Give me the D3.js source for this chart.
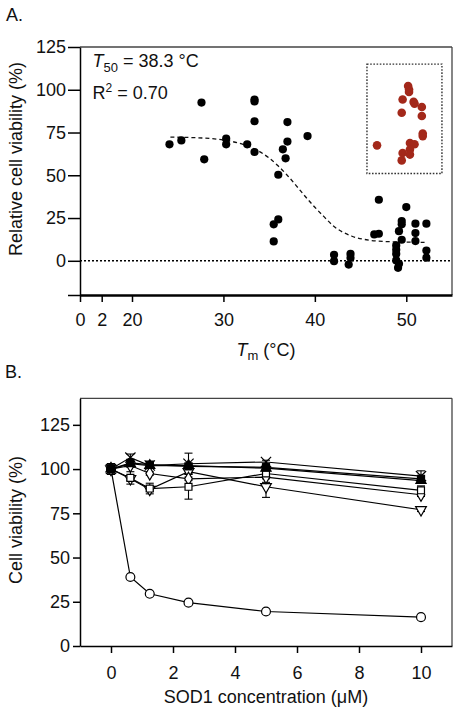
<!DOCTYPE html>
<html><head><meta charset="utf-8">
<script src="https://cdn.jsdelivr.net/npm/d3@7"></script>
<style>
html,body{margin:0;padding:0;background:#fff;}
svg text{font-family:"Liberation Sans",Arial,sans-serif;fill:#111;}
</style></head>
<body><svg id="c" width="458" height="717"></svg>
<script>
// ---------- Panel A data ----------
const tmBlack = [24.1,25.4,27.6,27.9,30.3,30.3,32.6,33.4,33.4,33.4,33.4,37.0,37.0,36.5,36.8,36.0,39.2,36.0,35.5,35.5,42.1,42.1,43.9,43.9,43.7,47.0,46.5,47.0,50.0,49.5,49.5,49.2,49.5,48.9,48.9,48.9,48.9,49.2,49.1,51.0,51.0,51.0,52.2,52.2,52.2];
const viabBlack = [68.1,70.4,92.5,59.3,71.4,68.1,68.1,94.3,93.2,81.6,63.6,81.1,69.7,65.2,59.9,50.3,72.9,24.2,21.3,11.3,3.5,-0.2,4.1,1.8,-2.2,35.7,15.4,15.8,31.4,23.2,21.3,17.3,12.3,9.0,6.4,4.1,0.2,-1.8,-4.1,21.7,16.2,11.5,21.7,6.0,1.8];
const tmRed = [50.2,50.3,50.3,49.6,50.8,50.9,51.7,51.7,49.5,51.8,51.8,46.8,50.4,50.9,49.6,50.4,50.4,49.5];
const viabRed = [102.2,100.1,98.7,94.3,92.9,91.9,89.9,84.7,86.6,74.4,72.9,67.5,68.9,68.1,63.0,65.0,62.1,58.7];
const fitTm = [24.2,28,30,32,34,35,36,37,38,39,40,41,42,44,46,48,52];
const fitViab = [72.3,71.7,70.6,68.3,63.7,60.1,55.4,49.9,43.7,37.3,31.3,25.8,20.5,14.5,12.0,11.2,10.8];
const boxTm = [45.7,53.9];
const boxViab = [51,115];
const tmTicks = [0,2,20,30,40,50];
const viabTicksA = [-20,0,25,50,75,100,125];

// ---------- Panel B data ----------
const sodConc = [0,0.625,1.25,2.5,5,10];
const sodTicks = [0,2,4,6,8,10];
const viabTicksB = [0,25,50,75,100,125];
const seriesNames = ["openCircle","openTriangleDown","openDiamond","openSquare","filledTriangle","filledSquare","times"];
const vOCircle = [100,39,29.5,24.5,19.5,16.3];
const vOTriDn  = [100,94.5,88.5,98.5,90,77];
const vODiam   = [100,102,97.5,94.5,95.5,85.5];
const vOSquare = [100,95,89,90,97.5,88];
const vFTri    = [100,103,102,102,100.5,93.5];
const vFSquare = [100,103.5,102.5,101.5,101,94.5];
const vTimes   = [100,106.5,102,103,104,96];
const eOCircle = [0,0,0,0,0,0];
const eOTriDn  = [3,1,1,1,6,1];
const eODiam   = [3,1,1,1,1,1];
const eOSquare = [3,3.5,3,7,5,2.5];
const eFTri    = [3,1,1,1,1,1];
const eFSquare = [3,1,1,1,1,1.5];
const eTimes   = [3,2,1,6,1,3];

const svg = d3.select("#c");

// ================= PANEL A =================
const xA = d3.scaleLinear().domain([0,2,20,55]).range([80,101.7,132,452]);
const yA = d3.scaleLinear().domain([-20,125]).range([295,47]);

svg.append("text").attr("x",6).attr("y",21).attr("font-size",18).text("A.");

const gA = svg.append("g");
gA.append("line").attr("x1",80).attr("x2",xA(55)).attr("y1",yA(125)).attr("y2",yA(125)).attr("stroke","#444").attr("stroke-width",1.3);
gA.append("line").attr("x1",xA(55)).attr("x2",xA(55)).attr("y1",yA(125)).attr("y2",yA(-20)).attr("stroke","#444").attr("stroke-width",1.3);

gA.append("line").attr("x1",xA(0)).attr("x2",xA(55)).attr("y1",yA(0)).attr("y2",yA(0))
  .attr("stroke","#000").attr("stroke-width",1.4).attr("stroke-dasharray","2,2");

const ayA = gA.append("g").attr("transform","translate(80,0)")
  .call(d3.axisLeft(yA).tickValues(viabTicksA).tickSize(12).tickSizeOuter(0).tickPadding(2)
    .tickFormat(d => d < 0 ? "" : d));
ayA.select(".domain").attr("stroke","#000").attr("stroke-width",1.5);
ayA.selectAll(".tick line").attr("stroke","#000").attr("stroke-width",1.5);
ayA.selectAll("text").attr("font-size",18).attr("font-family","Liberation Sans, Arial, sans-serif").attr("fill","#111");

const axA = gA.append("g").attr("transform",`translate(0,${yA(-20)})`)
  .call(d3.axisBottom(xA).tickValues(tmTicks).tickSize(7).tickSizeOuter(0).tickPadding(11.5));
axA.select(".domain").attr("stroke","#000").attr("stroke-width",2.6);
axA.selectAll(".tick line").attr("stroke","#000").attr("stroke-width",1.5);
axA.selectAll("text").attr("font-size",18).attr("font-family","Liberation Sans, Arial, sans-serif").attr("fill","#111");

gA.append("rect").attr("x",xA(boxTm[0])).attr("y",yA(boxViab[1]))
  .attr("width",xA(boxTm[1])-xA(boxTm[0])).attr("height",yA(boxViab[0])-yA(boxViab[1]))
  .attr("fill","none").attr("stroke","#333").attr("stroke-width",1.4).attr("stroke-dasharray","1.6,1.6");

const fitPts = fitTm.map((t,i)=>[t,fitViab[i]]);
gA.append("path").datum(fitPts)
  .attr("d", d3.line().x(d=>xA(d[0])).y(d=>yA(d[1])).curve(d3.curveMonotoneX))
  .attr("fill","none").attr("stroke","#111").attr("stroke-width",1.3).attr("stroke-dasharray","4,3");

gA.selectAll("circle.blk").data(tmBlack.map((t,i)=>[t,viabBlack[i]])).join("circle")
  .attr("class","blk").attr("cx",d=>xA(d[0])).attr("cy",d=>yA(d[1])).attr("r",4.1).attr("fill","#000");
gA.selectAll("circle.red").data(tmRed.map((t,i)=>[t,viabRed[i]])).join("circle")
  .attr("class","red").attr("cx",d=>xA(d[0])).attr("cy",d=>yA(d[1])).attr("r",4.3).attr("fill","#a3281a");

const t1 = svg.append("text").attr("x",92.5).attr("y",67).attr("font-size",18);
t1.append("tspan").attr("font-style","italic").text("T");
t1.append("tspan").attr("font-size",13).attr("dy",5).text("50");
t1.append("tspan").attr("dy",-5).text(" = 38.3 °C");
const t2 = svg.append("text").attr("x",92.5).attr("y",99).attr("font-size",18);
t2.append("tspan").text("R");
t2.append("tspan").attr("font-size",12).attr("dy",-7).text("2");
t2.append("tspan").attr("dy",7).text(" = 0.70");

svg.append("text").attr("transform","translate(22,159) rotate(-90)").attr("text-anchor","middle")
  .attr("font-size",18).text("Relative cell viability (%)");
const xt = svg.append("text").attr("x",266).attr("y",356).attr("text-anchor","middle").attr("font-size",18);
xt.append("tspan").attr("font-style","italic").text("T");
xt.append("tspan").attr("font-size",13).attr("dy",4).text("m");
xt.append("tspan").attr("dy",-4).text(" (°C)");

// ================= PANEL B =================
svg.append("text").attr("x",5).attr("y",378).attr("font-size",18).text("B.");

const xB = d3.scaleLinear().domain([-1,11]).range([80,452]);
const yB = d3.scaleLinear().domain([0,140]).range([646,398.3]);
const gB = svg.append("g");

gB.append("line").attr("x1",80).attr("x2",452).attr("y1",yB(140)).attr("y2",yB(140)).attr("stroke","#444").attr("stroke-width",1.3);
gB.append("line").attr("x1",452).attr("x2",452).attr("y1",yB(140)).attr("y2",yB(0)).attr("stroke","#444").attr("stroke-width",1.3);

const ayB = gB.append("g").attr("transform","translate(80,0)")
  .call(d3.axisLeft(yB).tickValues(viabTicksB).tickSize(7).tickSizeOuter(0).tickPadding(3));
ayB.select(".domain").attr("stroke","#000").attr("stroke-width",1.5);
ayB.selectAll(".tick line").attr("stroke","#000").attr("stroke-width",1.5);
ayB.selectAll("text").attr("font-size",18).attr("font-family","Liberation Sans, Arial, sans-serif").attr("fill","#111");

const axB = gB.append("g").attr("transform",`translate(0,${yB(0)})`)
  .call(d3.axisBottom(xB).tickValues(sodTicks).tickSize(7).tickSizeOuter(0).tickPadding(13));
axB.select(".domain").attr("stroke","#000").attr("stroke-width",1.5);
axB.selectAll(".tick line").attr("stroke","#000").attr("stroke-width",1.5);
axB.selectAll("text").attr("font-size",18).attr("font-family","Liberation Sans, Arial, sans-serif").attr("fill","#111");

const seriesVals = [vOCircle,vOTriDn,vODiam,vOSquare,vFTri,vFSquare,vTimes];
const seriesErr = [eOCircle,eOTriDn,eODiam,eOSquare,eFTri,eFSquare,eTimes];
const symbolDefs = {
  times:{type:d3.symbolTimes||d3.symbolX||d3.symbolCross,size:70,fill:"none",rot:0},
  filledSquare:{type:d3.symbolSquare,size:50,fill:"#000",rot:0},
  filledTriangle:{type:d3.symbolTriangle,size:45,fill:"#000",rot:0},
  openSquare:{type:d3.symbolSquare,size:48,fill:"#fff",rot:0},
  openDiamond:{type:d3.symbolDiamond,size:50,fill:"#fff",rot:0},
  openTriangleDown:{type:d3.symbolTriangle,size:50,fill:"#fff",rot:180},
  openCircle:{type:d3.symbolCircle,size:62,fill:"#fff",rot:0}
};
const lineB = d3.line().x(d=>xB(d[0])).y(d=>yB(d[1]));
seriesVals.forEach((vals,si)=>{
  const pts = sodConc.map((c,i)=>[c,vals[i]]);
  gB.append("path").datum(pts).attr("d",lineB).attr("fill","none").attr("stroke","#000").attr("stroke-width",1.2);
});
seriesVals.forEach((vals,si)=>{
  sodConc.forEach((c,i)=>{
    const e = seriesErr[si][i]; if(!e) return;
    const x = xB(c), y1 = yB(vals[i]-e), y2 = yB(vals[i]+e);
    gB.append("line").attr("x1",x).attr("x2",x).attr("y1",y1).attr("y2",y2).attr("stroke","#000").attr("stroke-width",1.1);
    [y1,y2].forEach(y=>gB.append("line").attr("x1",x-4).attr("x2",x+4).attr("y1",y).attr("y2",y).attr("stroke","#000").attr("stroke-width",1.1));
  });
});
seriesVals.forEach((vals,si)=>{
  const def = symbolDefs[seriesNames[si]];
  const sym = d3.symbol().type(def.type).size(def.size);
  gB.selectAll(null).data(sodConc.map((c,i)=>[c,vals[i]])).join("path")
    .attr("transform",d=>`translate(${xB(d[0])},${yB(d[1])}) rotate(${def.rot})`)
    .attr("d",sym).attr("fill",def.fill).attr("stroke","#000").attr("stroke-width",1.2);
});

svg.append("text").attr("transform","translate(22,520) rotate(-90)").attr("text-anchor","middle")
  .attr("font-size",18).text("Cell viability (%)");
svg.append("text").attr("x",266).attr("y",703).attr("text-anchor","middle").attr("font-size",18)
  .text("SOD1 concentration (μM)");
</script></body></html>
